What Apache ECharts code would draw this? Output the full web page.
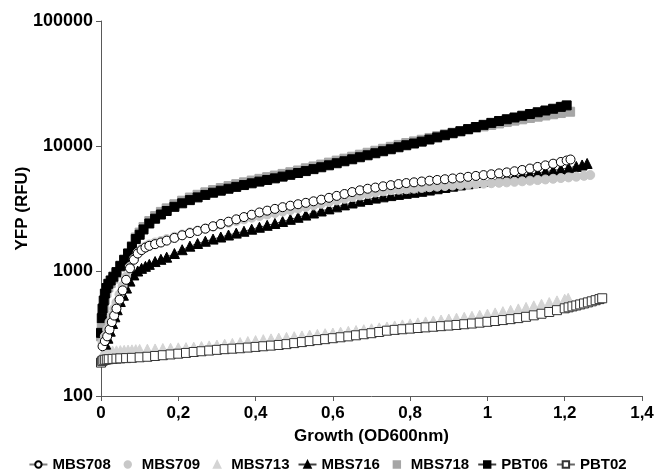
<!DOCTYPE html>
<html><head><meta charset="utf-8">
<script src="https://cdn.jsdelivr.net/npm/echarts@6/dist/echarts.min.js"></script>
<style>html,body{margin:0;padding:0;background:#fff}#c{width:655px;height:472px}</style>
</head><body><div id="c"></div>
<script>
var seriesNames = ['MBS708','MBS709','MBS713','MBS716','MBS718','PBT06','PBT02'];
var xTickLabels = ['0','0,2','0,4','0,6','0,8','1','1,2','1,4'];
var yTickLabels = ['100','1000','10000','100000'];

var pbt06X = [0,0.002,0.004,0.007,0.01,0.014,0.019,0.025,0.032,0.04,0.05,0.06,0.07,0.08,0.09,0.1,0.11,0.125,0.14,0.155,0.17,0.19,0.21,0.23,
0.25,0.27,0.29,0.31,0.33,0.35,0.37,0.39,0.41,0.43,0.45,0.47,0.49,0.51,0.53,0.55,0.57,0.59,0.61,0.63,0.65,0.67,0.69,0.71,0.73,0.75,0.77,0.79,0.81,0.83,0.85,0.87,0.89,0.91,0.93,0.95,0.97,0.99,1.01,1.03,1.05,1.07,1.09,1.11,1.13,1.15,1.17,1.19,1.205];
var pbt06Y = [320,420,500,580,660,730,790,840,900,980,1100,1230,1380,1560,1800,1950,2150,2400,2620,2830,3020,3260,3480,3690,
3880,4060,4230,4390,4550,4710,4870,5030,5190,5350,5510,5690,5880,6080,6300,6530,6760,7010,7280,7550,7830,8130,8430,8750,9080,9420,9770,10140,10470,10840,11270,11720,12190,12650,13120,13650,14190,14760,15310,15850,16370,16900,17460,18030,18620,19230,19860,20560,21130];

var mbs718X = [0,0.002,0.004,0.007,0.01,0.014,0.019,0.025,0.032,0.04,0.05,0.06,0.07,0.08,0.09,0.1,0.11,0.125,0.14,0.155,0.17,0.19,0.21,0.23,
0.25,0.27,0.29,0.31,0.33,0.35,0.37,0.39,0.41,0.43,0.45,0.47,0.49,0.51,0.53,0.55,0.57,0.59,0.61,0.63,0.65,0.67,0.69,0.71,0.73,0.75,0.77,0.79,0.81,0.83,0.85,0.87,0.89,0.91,0.93,0.95,0.97,0.99,1.01,1.03,1.05,1.07,1.09,1.11,1.13,1.15,1.17,1.19,1.214];
var mbs718Y = [300,360,430,510,590,670,740,800,870,960,1080,1220,1380,1580,1850,2030,2250,2510,2750,2970,3170,3420,3650,3870,
4070,4260,4440,4610,4780,4950,5120,5290,5460,5630,5800,5980,6170,6370,6630,6860,7100,7360,7640,7920,8210,8520,8830,9160,9500,9850,10200,10560,10880,11220,11600,12000,12400,12780,13150,13550,13950,14350,14750,15150,15550,15950,16350,16750,17150,17550,17950,18350,18800];

var mbs708X = [0.004,0.01,0.016,0.022,0.028,0.034,0.04,0.048,0.056,0.065,0.075,0.085,0.095,0.105,0.115,0.125,0.14,0.155,0.17,0.19,0.21,0.23,
0.25,0.27,0.29,0.31,0.33,0.35,0.37,0.39,0.41,0.43,0.45,0.47,0.49,0.51,0.53,0.55,0.57,0.59,0.61,0.63,0.65,0.67,0.69,0.71,0.73,0.75,0.77,0.79,0.81,0.83,0.85,0.87,0.89,0.91,0.93,0.95,0.97,0.99,1.01,1.03,1.05,1.07,1.09,1.11,1.13,1.15,1.17,1.19,1.205,1.215];
var mbs708Y = [250,275,300,340,390,440,500,590,700,850,1050,1230,1380,1470,1540,1590,1640,1690,1750,1840,1930,2010,
2090,2180,2280,2380,2480,2590,2700,2820,2940,3040,3140,3240,3330,3420,3510,3610,3720,3850,3990,4130,4280,4420,4550,4650,4760,4860,4960,5050,5120,5200,5280,5350,5420,5500,5580,5670,5760,5850,5940,6040,6150,6280,6430,6600,6800,7000,7220,7450,7650,7800];

var mbs709X = [0.004,0.01,0.016,0.022,0.028,0.034,0.04,0.048,0.056,0.065,0.075,0.085,0.095,0.105,0.115,0.125,0.14,0.155,0.17,0.19,0.21,0.23,
0.25,0.27,0.29,0.31,0.33,0.35,0.37,0.39,0.41,0.43,0.45,0.47,0.49,0.51,0.53,0.55,0.57,0.59,0.61,0.63,0.65,0.67,0.69,0.71,0.73,0.75,0.77,0.79,0.81,0.83,0.85,0.87,0.89,0.91,0.93,0.95,0.97,0.99,1.01,1.03,1.05,1.07,1.09,1.11,1.13,1.15,1.17,1.19,1.21,1.23,1.25,1.266];
var mbs709Y = [270,300,340,390,440,500,560,650,760,900,1080,1250,1400,1500,1570,1630,1690,1740,1800,1880,1960,2040,
2110,2190,2270,2350,2430,2510,2590,2670,2750,2830,2910,2990,3070,3160,3250,3350,3450,3560,3670,3780,3900,4020,4130,4240,4340,4430,4470,4510,4560,4620,4680,4730,4780,4830,4880,4920,4960,5000,5040,5080,5120,5170,5220,5280,5340,5400,5470,5540,5610,5680,5770,5860];

var mbs716X = [0.012,0.018,0.024,0.03,0.036,0.042,0.05,0.058,0.066,0.075,0.085,0.095,0.105,0.115,0.125,0.14,0.155,0.17,0.19,0.21,0.23,
0.25,0.27,0.29,0.31,0.33,0.35,0.37,0.39,0.41,0.43,0.45,0.47,0.49,0.51,0.53,0.55,0.57,0.59,0.61,0.63,0.65,0.67,0.69,0.71,0.73,0.75,0.77,0.79,0.81,0.83,0.85,0.87,0.89,0.91,0.93,0.95,0.97,0.99,1.01,1.03,1.05,1.07,1.09,1.11,1.13,1.15,1.17,1.19,1.21,1.23,1.245,1.258];
var mbs716Y = [260,290,330,380,430,490,570,640,730,830,930,1000,1050,1090,1130,1190,1240,1290,1380,1480,1580,
1660,1730,1800,1870,1940,2010,2080,2160,2240,2320,2400,2490,2590,2690,2800,2910,3020,3140,3260,3380,3500,3620,3730,3830,3920,4010,4100,4180,4260,4340,4440,4550,4660,4770,4880,4990,5100,5220,5340,5460,5580,5700,5830,5960,6090,6230,6370,6520,6690,6870,7050,7250];

var mbs713X = [0,0.004,0.008,0.012,0.017,0.023,0.03,0.04,0.05,0.06,0.07,0.08,0.09,0.1,
0.12,0.14,0.16,0.18,0.2,0.22,0.24,0.26,0.28,0.3,0.32,0.34,0.36,0.38,0.4,0.42,0.44,0.46,0.48,0.5,0.52,0.54,0.56,0.58,0.6,0.62,0.64,0.66,0.68,0.7,0.72,0.74,0.76,0.78,0.8,0.82,0.84,0.86,0.88,0.9,0.92,0.94,0.96,0.98,1.0,1.02,1.04,1.06,1.08,1.1,1.12,1.14,1.16,1.18,1.2,1.209];
var mbs713Y = [205,215,222,226,228,230,231,232,233,234,235,236,237,238,
239,240,242,243,245,246,248,251,254,258,262,266,270,275,280,285,289,293,297,301,305,310,314,318,322,327,332,337,342,348,354,360,367,374,381,388,395,402,409,416,423,430,438,447,456,466,477,489,502,516,531,547,564,582,600,610];

var pbt02X = [0,0.003,0.006,0.01,0.015,0.02,0.03,0.04,0.05,0.065,0.08,0.1,
0.12,0.14,0.16,0.18,0.2,0.22,0.24,0.26,0.28,0.3,0.32,0.34,0.36,0.38,0.4,0.42,0.44,0.46,0.48,0.5,0.52,0.54,0.56,0.58,0.6,0.62,0.64,0.66,0.68,0.7,0.72,0.74,0.76,0.78,0.8,0.82,0.84,0.86,0.88,0.9,0.92,0.94,0.96,0.98,1.0,1.02,1.04,1.06,1.08,1.1,1.12,1.14,1.16,1.18,1.2,
1.21,1.22,1.23,1.24,1.25,1.26,1.27,1.28,1.29,1.297];
var pbt02Y = [185,190,193,195,196,197,198,199,200,201,202,204,
206,209,212,215,218,221,225,228,231,234,237,239,241,244,247,250,253,256,260,265,270,275,280,285,290,295,300,306,312,318,325,333,338,342,346,350,354,358,362,366,370,375,380,386,392,398,405,412,420,430,442,455,470,486,503,
512,521,530,540,550,561,572,584,596,605];

function zip(xs, ys){ var out=[]; for(var i=0;i<xs.length;i++) out.push([xs[i], ys[i]]); return out; }

var FONT = '"Liberation Sans", Arial, sans-serif';
var chart = echarts.init(document.getElementById('c'), null, {renderer:'canvas'});

function lineSeries(name, xs, ys, symbol, size, fill, border, lineColor, lineWidth){
  return {name:name, type:'line', data:zip(xs,ys), symbol:symbol, symbolSize:size, showSymbol:true,
    itemStyle:{color:fill, borderColor:border, borderWidth:1, opacity:1},
    lineStyle:{color:lineColor, width:lineWidth, opacity: lineWidth > 0 ? 1 : 0}, emphasis:{disabled:true}};
}

chart.setOption({
  animation:false,
  backgroundColor:'#fff',
  grid:{left:101, right:13, top:21, bottom:76, containLabel:false, outerBoundsMode:'none'},
  legend:{data:seriesNames, top:452, left:'center', itemGap:8, itemWidth:18, itemHeight:8,
    textStyle:{fontFamily:FONT, fontWeight:'bold', fontSize:15, color:'#000'}},
  xAxis:{type:'value', min:0, max:1.4, interval:0.2,
    name:'Growth (OD600nm)', nameLocation:'middle', nameGap:32, nameMoveOverlap:false,
    nameTextStyle:{fontFamily:FONT, fontWeight:'bold', fontSize:17, color:'#000'},
    axisLine:{show:true, lineStyle:{color:'#595959', width:1}},
    axisTick:{show:true, inside:false, length:5, lineStyle:{color:'#595959'}},
    axisLabel:{fontFamily:FONT, fontWeight:'bold', fontSize:17, color:'#000', margin:9,
      formatter:function(v){ return xTickLabels[Math.round(v/0.2)]; }},
    splitLine:{show:false}},
  yAxis:{type:'log', logBase:10, min:100, max:100000,
    name:'YFP (RFU)', nameLocation:'middle', nameGap:70, nameMoveOverlap:false,
    nameTextStyle:{fontFamily:FONT, fontWeight:'bold', fontSize:17, color:'#000'},
    axisLine:{show:true, lineStyle:{color:'#595959', width:1}},
    axisTick:{show:true, inside:false, length:5, lineStyle:{color:'#595959'}},
    axisLabel:{fontFamily:FONT, fontWeight:'bold', fontSize:18, color:'#000', margin:8,
      formatter:function(v){ return yTickLabels[Math.round(Math.log10(v)) - 2]; }},
    splitLine:{show:false}, minorTick:{show:false}},
  series:[
    lineSeries('MBS718', mbs718X, mbs718Y, 'rect', 9, '#a6a6a6', '#a6a6a6', '#a6a6a6', 0),
    lineSeries('PBT06', pbt06X, pbt06Y, 'rect', 9, '#000', '#000', '#404040', 1),
    lineSeries('MBS713', mbs713X, mbs713Y, 'triangle', 9, '#d4d4d4', '#d4d4d4', '#d4d4d4', 0),
    lineSeries('PBT02', pbt02X, pbt02Y, 'rect', 9, '#fff', '#333', '#666', 1),
    lineSeries('MBS716', mbs716X, mbs716Y, 'triangle', 10, '#000', '#000', '#404040', 1),
    lineSeries('MBS709', mbs709X, mbs709Y, 'circle', 9, '#c8c8c8', '#c8c8c8', '#c8c8c8', 0),
    lineSeries('MBS708', mbs708X, mbs708Y, 'circle', 9, '#fff', '#000', '#808080', 1)
  ]
});
</script></body></html>
